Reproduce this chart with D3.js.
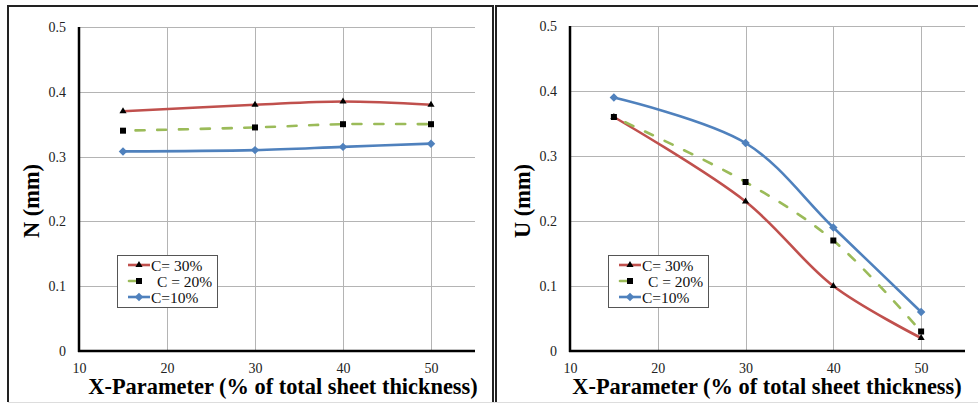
<!DOCTYPE html>
<html>
<head>
<meta charset="utf-8">
<script src="https://cdn.jsdelivr.net/npm/d3@7"></script>
<style>
  body { margin: 0; background: #fff; }
  svg text { font-family: "Liberation Serif", "DejaVu Serif", serif; }
</style>
</head>
<body>
<div class="canvas"></div>
<script>
const xValues = [15, 30, 40, 50]
const xTicks = [10, 20, 30, 40, 50]
const yTicks = [0, 0.1, 0.2, 0.3, 0.4, 0.5]

const nC30 = [0.37, 0.38, 0.385, 0.38]
const nC20 = [0.34, 0.345, 0.35, 0.35]
const nC10 = [0.308, 0.31, 0.315, 0.32]

const uC30 = [0.36, 0.23, 0.10, 0.02]
const uC20 = [0.36, 0.26, 0.17, 0.03]
const uC10 = [0.39, 0.32, 0.19, 0.06]

const seriesNames = ['C= 30%', 'C = 20%', 'C=10%']
const xTitle = 'X-Parameter (% of total sheet thickness)'

const serif = '"Liberation Serif", "DejaVu Serif", serif'

const styles = [
  { color: '#C0504D', dash: null, marker: 'tri' },
  { color: '#9BBB59', dash: '9,12.7', marker: 'sq' },
  { color: '#4F81BD', dash: null, marker: 'dia' }
]

const svg = d3.select('.canvas').append('svg')
  .attr('width', 978)
  .attr('height', 404)
  .attr('font-family', serif)

// panel frames
svg.append('path')
  .attr('d', 'M8,402 V6 H493 V402')
  .attr('fill', 'none').attr('stroke', '#222').attr('stroke-width', 2)
svg.append('path')
  .attr('d', 'M496,402 V6 H978')
  .attr('fill', 'none').attr('stroke', '#222').attr('stroke-width', 2)
svg.append('line')
  .attr('x1', 8).attr('x2', 978).attr('y1', 402.5).attr('y2', 402.5)
  .attr('stroke', '#ddd').attr('stroke-width', 1)

const drawPanel = (left, right, top, titleX, yLabel, values) => {
  const bottom = 351
  const x = d3.scaleLinear().domain([10, 55]).range([left, right])
  const y = d3.scaleLinear().domain([0, 0.5]).range([bottom, top])
  const g = svg.append('g')

  // grid
  g.selectAll('.hgrid').data(yTicks.slice(1)).enter().append('line')
    .attr('x1', left).attr('x2', right)
    .attr('y1', d => Math.round(y(d)) + 0.5).attr('y2', d => Math.round(y(d)) + 0.5)
    .attr('stroke', '#b4b4b4')
  g.selectAll('.vgrid').data(xTicks.slice(1)).enter().append('line')
    .attr('x1', d => Math.round(x(d)) + 0.5).attr('x2', d => Math.round(x(d)) + 0.5)
    .attr('y1', top).attr('y2', bottom)
    .attr('stroke', '#b4b4b4')

  // axes
  const yAxis = g.append('g')
    .attr('transform', `translate(${left},0)`)
    .call(d3.axisLeft(y).tickValues(yTicks).tickSize(0).tickPadding(13).tickFormat(d => d === 0 ? '0' : d3.format('.1f')(d)))
  const xAxis = g.append('g')
    .attr('transform', `translate(0,${bottom})`)
    .call(d3.axisBottom(x).tickValues(xTicks).tickSize(0).tickPadding(12))
  ;[xAxis, yAxis].forEach(a => {
    a.attr('font-family', serif)
    a.select('.domain').remove()
    a.selectAll('text').attr('font-size', 14).attr('fill', '#222')
  })
  g.append('line').attr('x1', left).attr('x2', left).attr('y1', top).attr('y2', bottom + 1)
    .attr('stroke', '#000').attr('stroke-width', 2.5)
  g.append('line').attr('x1', left - 1).attr('x2', right).attr('y1', bottom).attr('y2', bottom)
    .attr('stroke', '#000').attr('stroke-width', 2.5)

  // titles
  g.append('text')
    .attr('x', titleX).attr('y', 394)
    .attr('text-anchor', 'middle').attr('font-size', 22.4).attr('font-weight', 'bold')
    .text(xTitle)
  g.append('text')
    .attr('transform', `translate(${left - 40},201) rotate(-90)`)
    .attr('text-anchor', 'middle').attr('font-size', 22.4).attr('font-weight', 'bold')
    .text(yLabel)

  const line = d3.line()
    .x((d, i) => x(xValues[i]))
    .y(d => y(d))
    .curve(d3.curveCatmullRom.alpha(0.5))

  const drawMarker = (sel, type, color) => {
    if (type === 'tri') {
      sel.append('path').attr('d', d3.symbol(d3.symbolTriangle, 22)()).attr('fill', '#000')
    } else if (type === 'sq') {
      sel.append('rect').attr('x', -3).attr('y', -3).attr('width', 6).attr('height', 6).attr('fill', '#000')
    } else {
      sel.append('path').attr('d', d3.symbol(d3.symbolSquare, 36)()).attr('transform', 'rotate(45)').attr('fill', color)
    }
  }

  values.forEach((vals, si) => {
    const s = styles[si]
    g.append('path')
      .attr('d', line(vals))
      .attr('fill', 'none')
      .attr('stroke', s.color)
      .attr('stroke-width', 2.6)
      .attr('stroke-linecap', s.dash ? 'round' : 'butt')
      .attr('stroke-dasharray', s.dash)
      .attr('stroke-dashoffset', s.dash ? 9 : null)
    vals.forEach((v, i) => {
      const m = g.append('g').attr('transform', `translate(${x(xValues[i])},${y(v)})`)
      drawMarker(m, s.marker, s.color)
    })
  })

  // legend
  const lx = left + 38, ly = 255
  const lg = g.append('g').attr('transform', `translate(${lx},${ly})`)
  lg.append('rect').attr('x', 0.5).attr('y', 0.5).attr('width', 100).attr('height', 52)
    .attr('fill', '#fff').attr('stroke', '#555').attr('stroke-width', 1)
  seriesNames.forEach((name, i) => {
    const s = styles[i]
    const ry = 10 + i * 16
    lg.append('line')
      .attr('x1', s.dash ? 12 : 11).attr('x2', s.dash ? 19 : 33).attr('y1', ry).attr('y2', ry)
      .attr('stroke', s.color).attr('stroke-width', 2.6)
      .attr('stroke-linecap', s.dash ? 'round' : 'butt')
    const m = lg.append('g').attr('transform', `translate(22,${ry})`)
    drawMarker(m, s.marker, s.color)
    lg.append('text')
      .attr('x', s.dash ? 40 : 34).attr('y', ry + 5.5)
      .attr('font-size', 15.5).attr('fill', '#111')
      .text(name)
  })
}

drawPanel(79, 475, 27, 283, 'N (mm)', [nC30, nC20, nC10])
drawPanel(570, 965, 26, 767, 'U (mm)', [uC30, uC20, uC10])
</script>
</body>
</html>
